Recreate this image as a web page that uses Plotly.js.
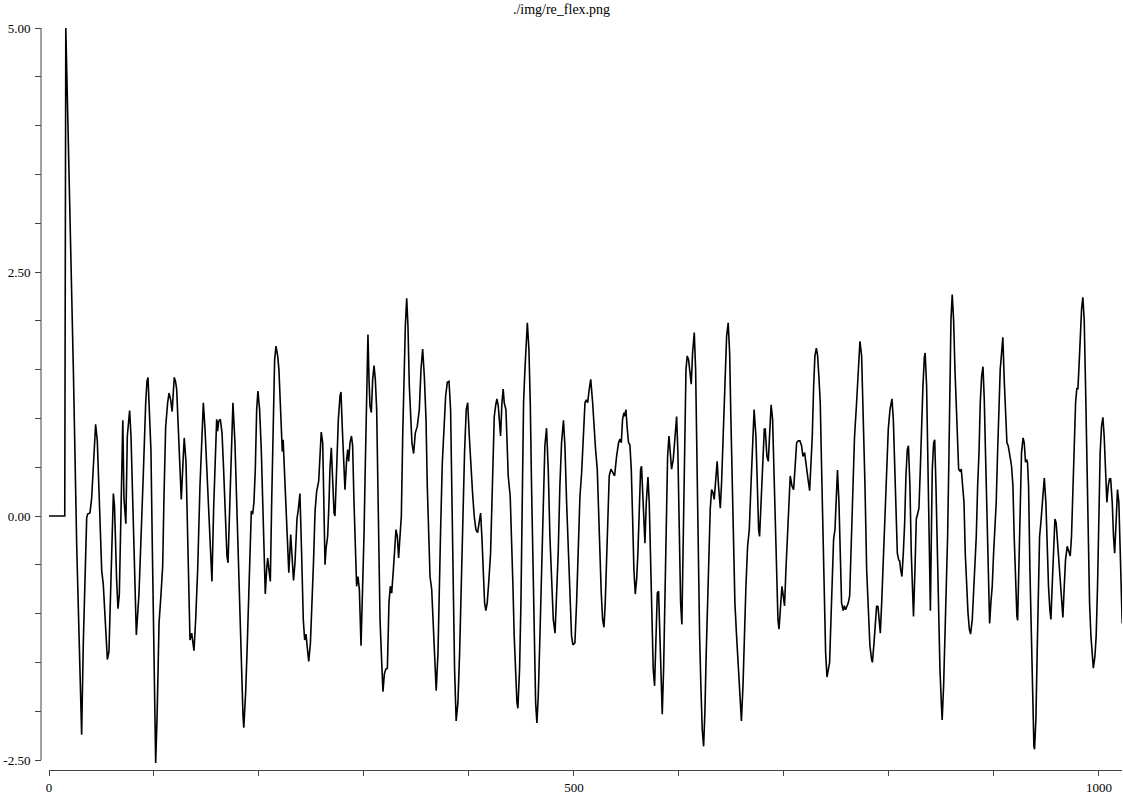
<!DOCTYPE html>
<html>
<head>
<meta charset="utf-8">
<script src="https://cdn.plot.ly/plotly-3.0.1.min.js"></script>
<style>html,body{margin:0;padding:0;background:#fff;}#chart{width:1123px;height:794px;}</style>
</head>
<body>
<div id="chart"></div>
<script>
// Signal sample positions (x) and values (y)
const sampleX = [0,15,16,20,23.2,26.4,31.1,32.7,34.3,35.9,36.8,39.0,40.6,42.2,44.4,46.0,47.9,50.2,51.7,53.3,55.6,57.1,58.8,60.2,61.3,62.4,64.4,65.7,67.0,68.6,70.3,71.4,73.2,74.6,76.8,78.1,80.3,81.9,83.2,85.7,87.6,89.8,92.1,93.3,94.3,97.1,98.4,99.7,100.7,101.6,103.0,104.8,106.7,108.3,109.5,111.1,113.0,114.3,115.9,117.3,119.3,120.5,121.6,123.2,124.8,126.0,127.9,128.8,130.5,132.1,133.3,134.3,135.9,138.1,139.7,141.6,143.8,145.4,147.0,148.6,150.5,152.4,154.3,155.2,156.8,158.4,159.7,160.6,161.6,163.2,164.8,166.3,167.9,169.5,170.5,172.1,173.7,175.2,177.1,178.7,180.3,182.2,183.5,184.8,185.5,187.3,188.6,189.8,191.4,192.7,194.0,195.2,196.5,197.8,199.0,200.6,202.2,203.8,205.1,206.0,207.3,208.3,209.5,210.8,212.1,213.7,214.9,216.2,217.8,219.0,220.3,221.6,222.2,223.0,224.8,226.3,227.2,228.4,230.2,232.9,234.3,236.2,237.5,239.0,240.6,242.2,243.5,244.8,246.0,247.4,249.0,250.5,252.0,253.4,254.9,256.9,258.1,259.3,260.7,261.6,262.9,263.8,265.4,266.7,267.6,268.9,270.2,271.5,272.4,274.0,275.6,277.2,278.1,279.4,280.7,281.9,283.5,284.5,285.4,286.7,288.1,289.2,290.5,291.8,293.0,294.3,295.6,297.2,298.4,300.0,301.3,302.6,303.8,304.8,305.7,307.0,308.3,309.6,310.8,312.1,313.4,314.3,315.3,316.9,318.1,319.4,320.7,322.3,323.8,325.1,326.4,328.0,329.6,330.5,331.8,333.0,334.3,335.6,336.9,338.1,339.4,340.7,341.9,343.2,344.5,345.7,347.3,348.9,350.8,352.7,354.3,355.9,357.5,359.1,360.3,361.6,362.9,364.5,366.1,367.6,368.8,370.5,371.8,373.0,374.6,376.2,377.8,379.4,381.0,382.5,383.8,385.0,386.3,387.8,389.5,391.1,392.7,394.2,395.8,397.4,398.8,400.3,401.9,403.4,405.0,406.6,408.2,409.8,411.1,412.3,413.6,414.9,416.1,417.4,419.0,420.6,421.9,423.1,424.1,425.4,426.6,427.9,428.8,430.1,431.4,432.6,433.6,435.2,436.1,437.4,439.3,440.6,441.9,443.1,444.4,445.7,446.6,448.2,449.5,450.8,452.0,453.3,454.6,455.6,457.1,458.4,459.6,460.9,462.2,463.5,464.7,466.0,467.6,469.2,470.8,472.3,473.9,475.5,477.1,478.7,480.3,482.0,483.4,485.0,486.6,488.2,490.0,491.4,493.0,494.6,496.1,497.7,499.0,500.9,502.5,504.1,505.7,507.3,508.9,510.5,511.7,513.0,514.6,516.0,517.8,519.0,520.6,522.2,523.5,524.7,526.0,527.3,528.6,529.8,531.1,532.4,533.6,535.2,536.8,538.7,540.6,542.5,543.8,545.1,546.3,547.6,548.2,549.5,550.8,552.0,553.3,554.6,555.9,557.1,558.4,559.7,560.9,562.2,563.5,564.4,565.7,567.0,567.6,568.9,570.5,571.7,573.0,574.3,575.5,576.8,578.1,579.4,580.6,581.9,583.2,584.1,585.4,586.7,587.9,589.2,590.5,591.7,593.0,594.6,596.2,597.8,599.0,600.3,601.6,602.8,604.1,605.4,606.7,607.9,609.2,610.5,611.7,613.0,614.6,615.9,617.1,618.4,619.7,620.9,622.2,623.5,624.7,626.0,627.3,628.6,629.8,631.1,632.4,633.6,634.9,636.4,637.7,639.4,640.6,642.2,643.8,645.4,646.9,648.3,649.5,650.8,652.1,653.3,654.9,656.5,658.1,659.5,661.0,662.2,663.8,665.4,667.0,668.6,670.2,671.6,673.3,674.6,675.9,676.8,678.1,679.7,681.3,682.2,683.8,685.1,686.4,687.8,689.2,690.5,691.8,693.0,694.3,695.3,696.8,698.1,699.4,700.6,701.9,703.2,704.5,706.0,707.6,709.2,710.5,712.1,713.7,715.2,716.8,718.1,719.7,721.3,722.9,724.5,725.7,727.0,728.3,729.5,730.9,732.1,733.3,734.6,735.9,737.2,738.4,739.7,741.0,742.2,743.5,744.8,746.0,747.3,748.6,749.9,751.0,752.4,753.7,754.9,756.4,757.5,758.7,760.0,761.3,762.6,764.0,765.5,767.2,769.2,770.8,772.4,774.0,775.6,777.2,778.8,780.4,781.9,783.5,784.3,785.8,787.0,788.3,789.6,790.8,791.8,793.1,794.6,796.2,797.8,799.4,801.0,802.9,804.2,805.4,806.7,808.0,809.3,810.2,811.2,812.4,813.7,815.0,816.2,817.5,818.6,820.0,821.3,822.6,823.4,824.8,826.1,827.3,828.6,829.9,831.2,832.4,833.7,834.5,835.9,837.2,838.5,839.5,840.4,841.3,842.6,843.6,844.8,846.1,847.3,848.6,849.9,850.7,852.1,853.4,854.6,855.9,857.2,858.1,859.1,860.3,861.6,862.9,864.2,865.4,866.4,867.7,868.9,870.2,871.5,872.7,874.0,875.3,876.6,877.8,879.4,880.7,882.0,883.2,884.5,885.8,887.0,888.3,889.6,890.8,892.1,893.2,894.6,895.9,897.1,898.4,899.7,900.9,902.2,903.5,904.7,906.0,907.3,908.5,909.8,911.1,912.4,913.6,914.9,915.8,916.8,918.1,919.3,920.6,921.9,922.6,923.8,925.1,926.3,927.8,928.9,930.1,931.1,932.0,933.0,934.3,935.5,936.8,938.1,938.7,940.0,941.2,942.5,943.5,944.7,946.0,947.3,948.0,949.5,950.8,952.0,953.3,954.3,955.5,956.8,958.1,959.3,960.6,961.6,962.8,964.1,965.7,967.0,968.2,969.8,971.4,972.7,973.9,975.2,976.5,977.8,979.0,980.0,980.9,982.2,983.5,984.7,986.0,987.3,988.5,989.8,991.1,992.4,993.6,994.7,996.2,997.4,998.7,1000.0,1001.2,1002.5,1003.8,1005.0,1006.3,1007.6,1008.9,1010.1,1011.2,1012.7,1013.9,1015.0,1016.5,1017.7,1019.0,1020.3,1021.6,1022.2];
const sampleY = [0,0,5.0,3.13,1.5,-0.31,-2.24,-1.29,-0.56,-0.02,0.02,0.03,0.18,0.52,0.94,0.77,0.18,-0.56,-0.70,-1.05,-1.47,-1.39,-0.85,-0.2,0.23,0.1,-0.65,-0.95,-0.80,0.18,0.98,0.18,-0.08,0.82,1.08,0.82,-0.07,-0.80,-1.22,-0.80,-0.31,0.42,1.16,1.38,1.42,0.67,-0.31,-1.29,-2.03,-2.53,-2.03,-1.10,-0.80,-0.51,0.18,0.91,1.16,1.26,1.19,1.07,1.42,1.38,1.30,0.82,0.41,0.17,0.61,0.80,0.55,-0.21,-0.89,-1.27,-1.20,-1.38,-1.06,-0.55,0.31,0.82,1.16,0.89,0.41,-0.07,-0.48,-0.67,0.07,0.68,0.99,0.87,0.97,0.99,0.85,0.48,-0.03,-0.41,-0.48,0.07,0.82,1.16,0.75,0.14,-0.48,-1.06,-1.57,-2.05,-2.17,-1.81,-1.40,-0.89,-0.38,0.05,0.02,0.14,0.48,1.09,1.28,1.09,0.68,0.14,-0.48,-0.80,-0.55,-0.43,-0.55,-0.67,0.14,1.16,1.60,1.74,1.64,1.50,1.09,0.68,0.66,0.78,0.31,-0.21,-0.45,-0.58,-0.19,-0.66,-0.48,-0.03,0.07,0.23,-0.38,-1.06,-1.27,-1.21,-1.35,-1.49,-1.3,-0.95,-0.45,0.05,0.25,0.36,0.61,0.86,0.75,0.14,-0.50,-0.34,-0.21,0.14,0.48,0.70,0.34,0.03,0.0,0.48,0.99,1.23,1.27,0.89,0.48,0.27,0.58,0.68,0.56,0.75,0.82,0.72,0.14,-0.38,-0.72,-0.62,-0.75,-1.33,-0.89,-0.21,0.54,1.23,1.86,1.40,1.13,1.06,1.40,1.54,1.40,1.09,0.14,-0.55,-1.06,-1.50,-1.80,-1.62,-1.57,-1.56,-0.89,-0.72,-0.79,-0.55,-0.21,-0.14,-0.21,-0.43,-0.21,0.0,0.82,1.50,1.95,2.23,1.95,1.33,0.99,0.75,0.64,0.85,0.92,1.09,1.50,1.71,1.43,0.99,0.31,-0.27,-0.62,-0.75,-1.20,-1.57,-1.79,-1.40,-0.89,-0.14,0.54,0.96,1.23,1.37,1.38,1.09,0.14,-0.89,-1.57,-2.10,-1.91,-1.40,-0.72,0.14,0.65,1.09,1.16,0.82,0.48,0.24,0.0,-0.14,-0.17,-0.07,0.03,-0.21,-0.65,-0.89,-0.97,-0.89,-0.65,-0.38,0.14,0.82,1.02,1.13,1.20,1.13,0.96,0.82,1.16,1.30,1.16,1.09,0.82,0.41,0.20,-0.21,-0.72,-1.23,-1.68,-1.91,-1.97,-1.57,-0.89,0.14,1.16,1.50,1.78,1.98,1.71,1.16,0.31,-0.55,-1.40,-1.91,-2.12,-1.85,-1.23,-0.55,0.31,0.72,0.90,0.48,-0.21,-0.72,-1.06,-1.20,-0.89,-0.38,0.31,0.75,0.98,0.72,0.14,-0.38,-0.89,-1.23,-1.32,-1.30,-0.89,-0.21,0.2,0.44,0.75,1.16,1.19,1.16,1.30,1.40,1.16,0.89,0.68,0.48,-0.03,-0.48,-0.79,-1.06,-1.14,-0.89,-0.38,0.14,0.41,0.48,0.44,0.41,0.61,0.75,0.79,0.75,0.99,1.06,1.02,1.09,0.89,0.75,0.73,0.48,-0.03,-0.55,-0.80,-0.65,-0.38,0.07,0.48,0.51,0.14,-0.21,-0.28,0.14,0.40,0.14,-0.55,-1.23,-1.57,-1.74,-1.23,-0.79,-0.77,-1.23,-1.74,-2.03,-1.57,-0.89,-0.03,0.61,0.82,0.61,0.48,0.58,0.82,1.02,0.65,-0.21,-0.89,-1.11,-0.21,0.82,1.50,1.64,1.60,1.47,1.35,1.67,1.88,1.50,0.48,-0.55,-1.23,-1.74,-2.19,-2.36,-2.02,-1.40,-0.89,-0.38,0.07,0.27,0.24,0.17,0.41,0.56,0.31,0.08,0.34,0.82,1.40,1.84,1.98,1.67,0.99,0.31,-0.38,-0.89,-1.23,-1.57,-1.91,-2.10,-1.74,-1.23,-0.72,-0.31,-0.14,0.31,0.82,1.09,0.82,0.31,-0.14,-0.21,0.14,0.65,0.89,0.89,0.61,0.56,0.89,1.14,0.99,0.48,-0.21,-0.72,-1.06,-1.16,-0.89,-0.72,-0.82,-0.92,-0.55,-0.21,0.14,0.41,0.31,0.27,0.48,0.75,0.77,0.77,0.72,0.61,0.65,0.48,0.38,0.26,0.48,0.82,1.33,1.64,1.72,1.64,1.43,1.16,0.48,-0.21,-0.89,-1.40,-1.65,-1.57,-1.50,-1.06,-0.55,-0.24,-0.14,0.14,0.47,0.14,-0.38,-0.89,-0.97,-0.92,-0.96,-0.92,-0.89,-0.82,-0.3,0.25,0.8,1.16,1.50,1.79,1.64,1.09,0.31,-0.55,-1.06,-1.33,-1.47,-1.50,-1.30,-1.13,-0.92,-0.93,-1.13,-1.20,-0.89,-0.45,-0.03,0.48,0.89,1.09,1.20,0.99,0.48,-0.03,-0.38,-0.45,-0.46,-0.55,-0.62,-0.38,-0.07,0.41,0.68,0.72,0.31,-0.38,-0.89,-1.03,-0.55,-0.03,0.02,0.08,0.48,0.99,1.33,1.62,1.67,1.33,0.31,-0.55,-0.97,-0.21,0.48,0.75,0.78,0.31,-0.38,-1.06,-1.57,-1.91,-2.09,-1.74,-1.23,-0.89,-0.21,0.65,1.50,2.01,2.27,2.01,1.50,1.16,0.82,0.48,0.46,0.48,0.31,0.14,-0.38,-0.72,-0.99,-1.16,-1.21,-1.06,-0.72,-0.55,-0.21,0.31,0.65,1.16,1.43,1.53,1.20,0.6,0.1,-0.55,-1.10,-0.89,-0.72,-0.38,-0.14,0.14,0.65,1.16,1.50,1.67,1.83,1.40,0.99,0.75,0.72,0.60,0.58,0.51,0.31,-0.21,-0.72,-1.03,-1.07,-0.55,0.14,0.65,0.80,0.75,0.55,0.58,0.55,0.31,-0.55,-1.23,-1.91,-2.36,-2.39,-2.08,-1.40,-0.72,-0.21,-0.07,0.14,0.34,0.39,0.14,-0.38,-0.72,-0.96,-1.06,-0.72,-0.38,-0.03,-0.07,-0.27,-0.36,-0.55,-0.82,-1.04,-0.72,-0.45,-0.31,-0.38,-0.41,-0.21,0.31,0.82,1.16,1.31,1.30,1.50,1.84,2.12,2.24,2.01,1.33,0.48,-0.38,-0.89,-1.23,-1.47,-1.56,-1.44,-1.23,-0.72,-0.03,0.65,0.92,1.01,0.82,0.41,0.14,0.31,0.38,0.38,0.14,-0.21,-0.38,-0.03,0.27,0.14,-0.38,-1.06,-1.10];

const yTickVals = [-2.5, 0, 2.5, 5];
const yTickText = ['-2.50', '0.00', '2.50', '5.00'];
const xTickVals = [0, 500, 1000];
const xTickText = ['0', '500', '1000'];
const chartTitle = './img/re_flex.png';

const axisColor = '#444';
const fontFam = '"Liberation Serif", "Times New Roman", serif';

const trace = {
  x: sampleX, y: sampleY, type: 'scatter', mode: 'lines',
  line: {color: '#000', width: 1.6, shape: 'linear'},
  hoverinfo: 'skip', showlegend: false
};

const layout = {
  width: 1123, height: 794,
  margin: {l: 41, r: 1, t: 28, b: 24, pad: 0},
  paper_bgcolor: '#fff', plot_bgcolor: '#fff',
  font: {family: fontFam, size: 13, color: '#000'},
  title: {text: chartTitle, font: {family: fontFam, size: 14, color: '#000'},
          x: 0.5, xref: 'container', xanchor: 'center', y: 0.995, yref: 'container', yanchor: 'top'},
  xaxis: {
    domain: [8/1081, 1], range: [0, 1022], anchor: 'free', position: 0,
    showline: true, linecolor: axisColor, linewidth: 1,
    showgrid: false, zeroline: false,
    tickmode: 'array', tickvals: xTickVals, ticktext: xTickText,
    ticks: 'outside', ticklen: 5, tickwidth: 1, tickcolor: axisColor,
    ticklabelstandoff: 0,
    tickfont: {family: fontFam, size: 13, color: '#000'},
    minor: {dtick: 100, tick0: 0, ticks: 'outside', ticklen: 5, tickwidth: 1, tickcolor: axisColor, showgrid: false},
    automargin: false, fixedrange: true
  },
  yaxis: {
    domain: [0, 1], range: [-2.6025, 5], anchor: 'free', position: 0,
    showline: false, showgrid: false, zeroline: false,
    tickmode: 'array', tickvals: yTickVals, ticktext: yTickText,
    ticks: 'outside', ticklen: 6, tickwidth: 1, tickcolor: axisColor,
    ticklabelstandoff: 2,
    tickfont: {family: fontFam, size: 13, color: '#000'},
    minor: {dtick: 0.5, tick0: 0, ticks: 'outside', ticklen: 6, tickwidth: 1, tickcolor: axisColor, showgrid: false},
    automargin: false, fixedrange: true
  },
  shapes: [{
    type: 'line', xref: 'paper', yref: 'y', x0: 0, x1: 0,
    y0: yTickVals[0], y1: yTickVals[yTickVals.length - 1],
    line: {color: axisColor, width: 1}, layer: 'above'
  }]
};

Plotly.newPlot('chart', [trace], layout, {staticPlot: true, displayModeBar: false});
</script>
</body>
</html>
